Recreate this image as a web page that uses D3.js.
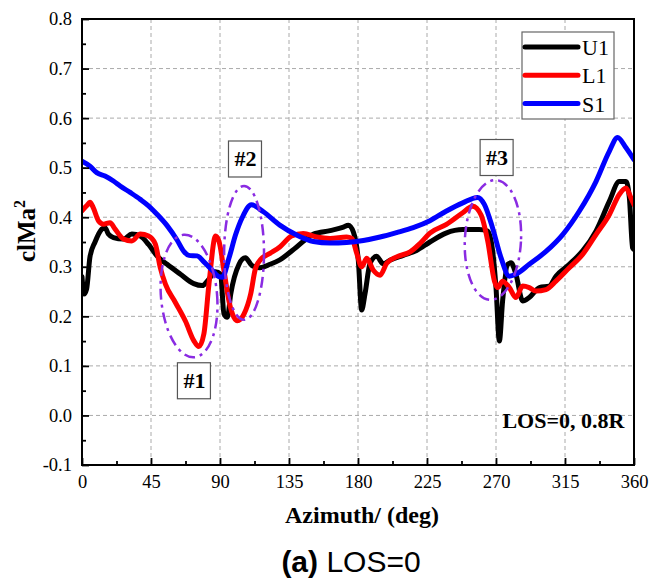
<!DOCTYPE html>
<html><head><meta charset="utf-8">
<script src="https://cdn.jsdelivr.net/npm/d3@7"></script>
<style>body{margin:0;background:#fff}</style>
</head><body>
<svg id="c" width="649" height="580"></svg>
<script>
const u1Az  = [0,1.3,3,5.2,8.5,12.9,15,17.2,20.5,27,32.5,38,43.4,48.9,55.5,64.2,72.9,78.4,82.8,87.1,90.4,92.6,94.8,97,102.4,106.5,111,116,122.6,129,140,151,161.8,170.5,173.7,177,180.2,182.4,184.6,187.8,192.1,196.5,200.8,209.5,218.2,226.9,237.4,248.3,259,264.6,267.8,270,272.2,274.3,277.6,279.8,283,287.4,291.7,298.3,304.8,309.1,317.8,326.5,335.2,343.9,350.4,354.8,357,359.1,360];
const u1Val = [0.28,0.245,0.255,0.32,0.35,0.376,0.379,0.366,0.359,0.356,0.366,0.362,0.345,0.322,0.305,0.285,0.266,0.262,0.275,0.29,0.285,0.205,0.198,0.245,0.305,0.318,0.302,0.298,0.305,0.314,0.34,0.366,0.373,0.38,0.384,0.37,0.313,0.213,0.246,0.306,0.321,0.306,0.313,0.323,0.333,0.35,0.368,0.375,0.375,0.372,0.332,0.258,0.15,0.231,0.305,0.308,0.285,0.231,0.238,0.258,0.261,0.281,0.305,0.332,0.372,0.432,0.472,0.472,0.439,0.338,0.335];

const l1Az  = [0,3,5.2,7.4,10.7,14,18.3,21.6,27,32.5,38,43.4,47.8,51,54.4,60.9,67.5,72.9,76.2,79.5,82.8,87.1,89.3,92.6,95.9,99.1,101.3,105.7,110,113,116.6,122.6,129,136.7,144.3,153,161.8,172.6,176,179.3,182.4,185.7,190,194.4,198.7,205.2,214,220.4,226.9,237.4,248.3,254.8,260.2,264.6,269,271.1,274.3,278.7,283,287.4,291.7,296,302.6,309.1,317.8,326.5,335.2,343.9,350.4,354.8,358,360];
const l1Val = [0.413,0.423,0.43,0.419,0.393,0.386,0.389,0.376,0.356,0.352,0.366,0.362,0.346,0.299,0.265,0.228,0.19,0.151,0.139,0.165,0.265,0.362,0.352,0.292,0.23,0.198,0.191,0.205,0.245,0.295,0.315,0.327,0.34,0.362,0.367,0.36,0.357,0.36,0.357,0.326,0.30,0.317,0.293,0.283,0.307,0.32,0.33,0.347,0.368,0.385,0.409,0.422,0.405,0.352,0.271,0.258,0.271,0.258,0.238,0.261,0.258,0.251,0.254,0.271,0.298,0.325,0.365,0.405,0.446,0.459,0.439,0.425];

const s1Az  = [0,5.2,9.6,15,20.5,24.9,31.4,38,43.4,48.9,55.5,62,66.4,69.7,75.1,79.5,84.9,89.3,91.5,95.9,100.2,104.6,110.5,118.3,129,140,150.9,161.8,172.6,183.5,194.4,205.2,216,226.9,237.4,248.3,258,262.4,267.8,273.3,278.7,283,291.7,302.6,313.5,324.3,335.2,343.9,349.3,354.8,360];
const s1Val = [0.513,0.503,0.49,0.483,0.473,0.463,0.45,0.436,0.423,0.406,0.383,0.354,0.331,0.323,0.322,0.31,0.293,0.28,0.279,0.318,0.365,0.40,0.425,0.411,0.384,0.364,0.351,0.348,0.349,0.353,0.36,0.369,0.379,0.393,0.412,0.429,0.44,0.426,0.378,0.318,0.281,0.285,0.305,0.331,0.365,0.412,0.472,0.533,0.561,0.54,0.516];

const seriesNames  = ["U1","L1","S1"];
const seriesColors = ["#000000","#ff0000","#0000ff"];

const xTicks = [0,45,90,135,180,225,270,315,360];
const yTicks = [-0.1,0.0,0.1,0.2,0.3,0.4,0.5,0.6,0.7,0.8];

// annotation ellipses: label, center az, center value, half-width (deg), half-height (value), rotation
const ellLabels = ["#1","#2","#3"];
const ellCx  = [69.8,105.7,268];
const ellCy  = [0.241,0.328,0.354];
const ellRx  = [18.3,13,18.3];
const ellRy  = [0.124,0.135,0.121];
const ellRot = [-5,0,3];
const boxAz  = [73.0,106.3,270.4];
const boxVal = [0.070,0.5175,0.5205];

const svg = d3.select("#c");
const M = {l:82,r:634,t:19,b:465};
const x = d3.scaleLinear().domain([0,360]).range([M.l,M.r]);
const y = d3.scaleLinear().domain([-0.1,0.8]).range([M.b,M.t]);
const serif = "Liberation Serif";

// grid
const g = svg.append("g");
g.selectAll(".gx").data(xTicks.filter(d=>d>0&&d<360)).enter().append("line")
  .attr("x1",d=>x(d)).attr("x2",d=>x(d)).attr("y1",M.t).attr("y2",M.b)
  .attr("stroke","#aaa").attr("stroke-width",1).attr("stroke-dasharray","4,3");
g.selectAll(".gy").data(yTicks.filter(d=>d>-0.1&&d<0.8)).enter().append("line")
  .attr("y1",d=>y(d)).attr("y2",d=>y(d)).attr("x1",M.l).attr("x2",M.r)
  .attr("stroke","#aaa").attr("stroke-width",1).attr("stroke-dasharray","4,3");

// clip
svg.append("clipPath").attr("id","clip").append("rect")
  .attr("x",M.l).attr("y",M.t).attr("width",M.r-M.l).attr("height",M.b-M.t);

const line = d3.line().x(d=>x(d[0])).y(d=>y(d[1])).curve(d3.curveMonotoneX);
const allData = [d3.zip(u1Az,u1Val), d3.zip(l1Az,l1Val), d3.zip(s1Az,s1Val)];
const lg = svg.append("g").attr("clip-path","url(#clip)");
allData.forEach((data,i)=>{
  lg.append("path").datum(data).attr("d",line).attr("fill","none")
    .attr("stroke",seriesColors[i]).attr("stroke-width",5)
    .attr("stroke-linejoin","round").attr("stroke-linecap","round");
});

// ellipses
const eg = svg.append("g");
ellLabels.forEach((lab,i)=>{
  const cx = x(ellCx[i]), cy = y(ellCy[i]);
  const rx = x(ellCx[i]+ellRx[i]) - x(ellCx[i]);
  const ry = y(ellCy[i]) - y(ellCy[i]+ellRy[i]);
  eg.append("ellipse").attr("cx",0).attr("cy",0).attr("rx",rx).attr("ry",ry)
    .attr("transform",`translate(${cx},${cy}) rotate(${ellRot[i]})`)
    .attr("fill","none").attr("stroke","#8a2be2").attr("stroke-width",2.5)
    .attr("stroke-dasharray","11,5,3,5");
  const bx = x(boxAz[i]), by = y(boxVal[i]);
  eg.append("rect").attr("x",bx-16.5).attr("y",by-18).attr("width",33).attr("height",36)
    .attr("fill","#fff").attr("stroke","#555").attr("stroke-width",1.2);
  eg.append("text").attr("x",bx+0.5).attr("y",by+7.5).attr("text-anchor","middle")
    .attr("font-family",serif).attr("font-weight","bold").attr("font-size",22).text(lab);
});

// axes
const styleAxis = s=>{
  s.attr("font-family",serif).attr("font-size",18.5);
  s.select(".domain").remove();
  s.selectAll("line").attr("stroke","#000").attr("stroke-width",1.8);
  s.selectAll("text").attr("font-family",serif).attr("font-size",18.5).attr("fill","#000");};
const yFmt = d => d3.format(".1f")(d).replace("\u2212","-");
const ax = svg.append("g");
ax.append("g").attr("transform",`translate(0,${M.b})`)
  .call(d3.axisBottom(x).tickValues(xTicks).tickSize(-7).tickPadding(10).tickFormat(d3.format("d")))
  .call(styleAxis);
ax.append("g").attr("transform",`translate(0,${M.b})`)
  .call(d3.axisBottom(x).tickValues(d3.range(22.5,360,45)).tickSize(-4).tickFormat(""))
  .call(styleAxis);
ax.append("g").attr("transform",`translate(${M.l},0)`)
  .call(d3.axisLeft(y).tickValues(yTicks).tickSize(-7).tickPadding(10).tickFormat(yFmt))
  .call(styleAxis);
ax.append("g").attr("transform",`translate(${M.l},0)`)
  .call(d3.axisLeft(y).tickValues(d3.range(-0.05,0.8,0.1)).tickSize(-4).tickFormat(""))
  .call(styleAxis);
svg.append("rect").attr("x",M.l).attr("y",M.t).attr("width",M.r-M.l).attr("height",M.b-M.t)
  .attr("fill","none").attr("stroke","#000").attr("stroke-width",2);

// legend
const leg = svg.append("g").attr("transform","translate(522,32)");
leg.append("rect").attr("width",92).attr("height",87).attr("fill","#fff")
  .attr("stroke","#666").attr("stroke-width",1.2);
seriesNames.forEach((n,i)=>{
  const yy = 15 + i*28.3;
  leg.append("line").attr("x1",3).attr("x2",56).attr("y1",yy).attr("y2",yy)
    .attr("stroke",seriesColors[i]).attr("stroke-width",5).attr("stroke-linecap","round");
  leg.append("text").attr("x",60).attr("y",yy+8).attr("font-family",serif)
    .attr("font-size",22).text(n);
});

// LOS text
svg.append("text").attr("x",x(353.7)).attr("y",y(-0.0245)).attr("text-anchor","end")
  .attr("font-family",serif).attr("font-weight","bold").attr("font-size",22).text("LOS=0, 0.8R");

// axis titles
svg.append("text").attr("transform","translate(35,231) rotate(-90)").attr("text-anchor","middle")
  .attr("font-family",serif).attr("font-weight","bold").attr("font-size",25)
  .text("clMa").append("tspan").attr("dy",-10).attr("font-size",16).text("2");
svg.append("text").attr("x",362).attr("y",523).attr("text-anchor","middle")
  .attr("font-family",serif).attr("font-weight","bold").attr("font-size",24).text("Azimuth/ (deg)");
const t = svg.append("text").attr("x",351).attr("y",572).attr("text-anchor","middle")
  .attr("font-family","Liberation Sans").attr("font-size",30);
t.append("tspan").attr("font-weight","bold").text("(a)");
t.append("tspan").text(" LOS=0");
</script>
</body></html>
